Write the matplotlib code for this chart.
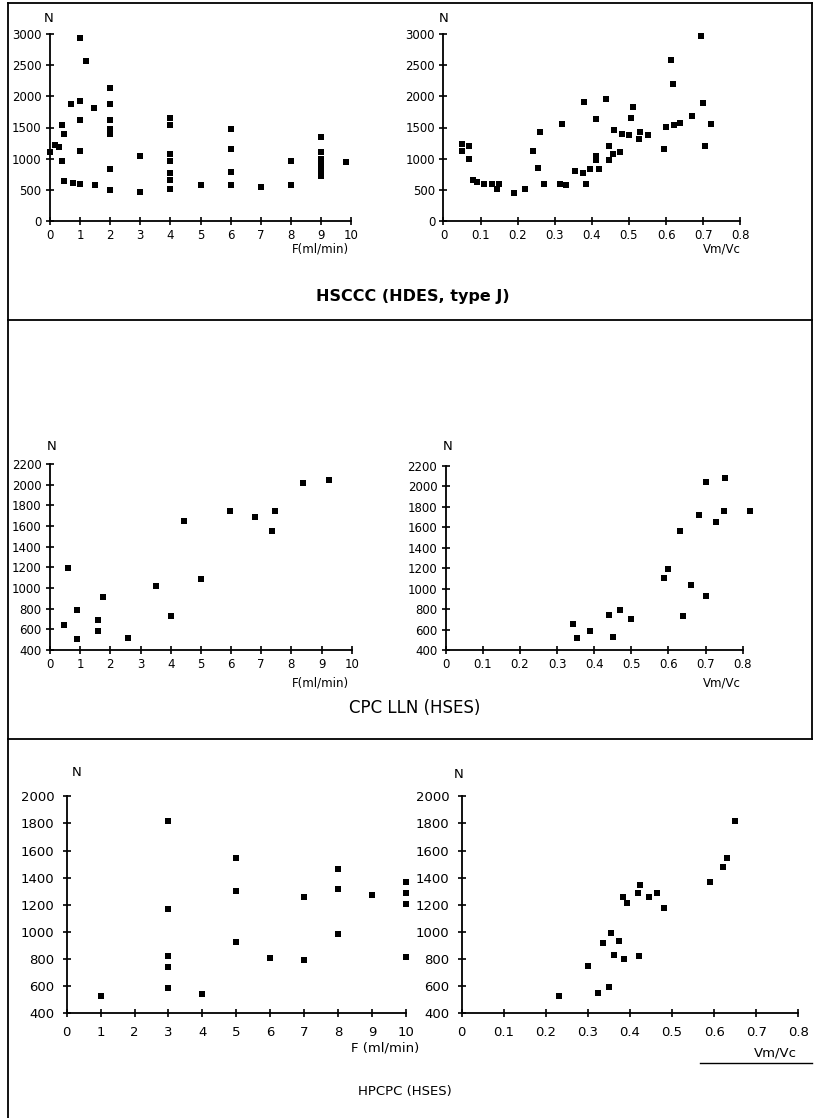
import matplotlib
matplotlib.use("Agg")
import matplotlib.pyplot as plt
from matplotlib.lines import Line2D

plt.rcParams['font.family'] = ['DejaVu Sans']

W, H = 816, 1118

# ---------------- data ----------------
# HSCCC (HDES, type J) : N vs F
hsccc_F = [0, 0.15, 0.3, 0.4, 0.45, 0.4, 0.45, 0.7, 0.75,
           1, 1, 1, 1, 1, 1.2, 1.45, 1.5,
           2, 2, 2, 2, 2, 2, 2, 3, 3,
           4, 4, 4, 4, 4, 4, 4, 5,
           6, 6, 6, 6, 7, 8, 8,
           9, 9, 9, 9, 9, 9, 9, 9.85]
hsccc_F_N = [1100, 1220, 1190, 1540, 1390, 960, 640, 1870, 610,
             2930, 1920, 1620, 1120, 590, 2560, 1820, 570,
             2140, 1870, 1620, 1480, 1400, 840, 490, 1040, 460,
             1650, 1540, 1070, 960, 770, 660, 520, 570,
             1470, 1150, 790, 570, 540, 970, 570,
             1350, 1100, 1000, 920, 850, 780, 720, 950]

# HSCCC : N vs Vm/Vc
hsccc_V = [0.05, 0.05, 0.07, 0.07, 0.08, 0.09, 0.11, 0.13, 0.145, 0.15,
           0.19, 0.22, 0.24, 0.255, 0.26, 0.27, 0.315, 0.32, 0.33, 0.355,
           0.375, 0.38, 0.385, 0.395, 0.41, 0.41, 0.41, 0.42, 0.438, 0.445,
           0.445, 0.458, 0.46, 0.475, 0.48, 0.5, 0.505, 0.512, 0.528, 0.53,
           0.55, 0.595, 0.6, 0.62, 0.637, 0.613, 0.618, 0.67, 0.693, 0.7,
           0.705, 0.72]
hsccc_V_N = [1240, 1130, 1210, 990, 650, 620, 600, 590, 510, 590,
             455, 510, 1130, 845, 1420, 590, 600, 1550, 575, 800,
             770, 1910, 600, 830, 1640, 980, 1050, 830, 1960, 1200,
             980, 1075, 1460, 1100, 1400, 1385, 1660, 1830, 1310, 1420,
             1385, 1160, 1510, 1535, 1580, 2590, 2190, 1690, 2960, 1890,
             1210, 1555]

# CPC LLN (HSES)
cpc_F = [0.45, 0.6, 0.9, 0.9, 1.6, 1.6, 1.75, 2.6, 3.5, 4.0,
         4.45, 5.0, 5.95, 6.8, 7.35, 7.45, 8.4, 9.25]
cpc_F_N = [640, 1195, 790, 505, 690, 580, 910, 520, 1015, 730,
           1645, 1090, 1750, 1690, 1550, 1750, 2015, 2050]
cpc_V = [0.343, 0.353, 0.39, 0.44, 0.45, 0.47, 0.5, 0.587, 0.6, 0.632,
         0.64, 0.66, 0.682, 0.7, 0.7, 0.728, 0.749, 0.753, 0.82]
cpc_V_N = [650, 515, 590, 740, 525, 790, 700, 1100, 1195, 1565,
           730, 1030, 1720, 2040, 930, 1655, 1760, 2075, 1760]

# HPCPC (HSES)
hpcpc_F = [1, 3, 3, 3, 3, 3, 4, 5, 5, 5, 6, 7, 7, 8, 8, 8, 9, 10, 10, 10, 10]
hpcpc_F_N = [525, 1815, 1170, 825, 745, 590, 545, 1545, 1305, 925, 805,
             1255, 790, 1465, 1315, 985, 1270, 1365, 1285, 1205, 815]
hpcpc_V = [0.232, 0.3, 0.325, 0.336, 0.35, 0.354, 0.362, 0.373, 0.384, 0.386,
           0.392, 0.42, 0.421, 0.424, 0.445, 0.463, 0.481, 0.59, 0.622, 0.63, 0.649]
hpcpc_V_N = [530, 750, 550, 920, 595, 990, 830, 935, 1260, 800,
             1210, 1290, 825, 1345, 1255, 1290, 1180, 1365, 1480, 1545, 1815]

F_ticks = list(range(0, 11))
V_ticks = [0, 0.1, 0.2, 0.3, 0.4, 0.5, 0.6, 0.7, 0.8]
V_labels = ['0', '0.1', '0.2', '0.3', '0.4', '0.5', '0.6', '0.7', '0.8']
top_yticks = [0, 500, 1000, 1500, 2000, 2500, 3000]
mid_yticks = list(range(400, 2201, 200))
bot_yticks = list(range(400, 2001, 200))

# ---------------- figure ----------------
fig = plt.figure(figsize=(W / 100, H / 100), dpi=100)


def fx(x):
    return x / W


def fy(y):
    return 1 - y / H


def make_ax(left, right, bottom, top):
    ax = fig.add_axes([fx(left), fy(bottom), (right - left) / W, (bottom - top) / H])
    ax.set_facecolor('none')
    for s in ['top', 'right']:
        ax.spines[s].set_visible(False)
    for s in ['left', 'bottom']:
        ax.spines[s].set_linewidth(1.3)
        ax.spines[s].set_color('black')
    ax.tick_params(direction='inout', length=6, width=1.2, colors='black')
    return ax


def scatter(ax, x, y):
    ax.plot(x, y, 's', color='black', ms=3.8, mew=0, clip_on=False)


# Row 1
ax1 = make_ax(50, 351, 221, 34)
scatter(ax1, hsccc_F, hsccc_F_N)
ax1.set_xlim(0, 10); ax1.set_ylim(0, 3000)
ax1.set_xticks(F_ticks); ax1.set_yticks(top_yticks)
ax1.tick_params(labelsize=8.5, pad=3)

ax2 = make_ax(443.5, 740.3, 221, 34)
scatter(ax2, hsccc_V, hsccc_V_N)
ax2.set_xlim(0, 0.8); ax2.set_ylim(0, 3000)
ax2.set_xticks(V_ticks); ax2.set_xticklabels(V_labels); ax2.set_yticks(top_yticks)
ax2.tick_params(labelsize=8.5, pad=3)

# Row 2
ax3 = make_ax(50, 351.7, 650, 464)
scatter(ax3, cpc_F, cpc_F_N)
ax3.set_xlim(0, 10); ax3.set_ylim(400, 2200)
ax3.set_xticks(F_ticks); ax3.set_yticks(mid_yticks)
ax3.tick_params(labelsize=8.5, pad=3)

ax4 = make_ax(445.6, 742.7, 650, 465.7)
scatter(ax4, cpc_V, cpc_V_N)
ax4.set_xlim(0, 0.8); ax4.set_ylim(400, 2200)
ax4.set_xticks(V_ticks); ax4.set_xticklabels(V_labels); ax4.set_yticks(mid_yticks)
ax4.tick_params(labelsize=8.5, pad=3)

# Row 3
ax5 = make_ax(66.7, 406, 1013.3, 796.3)
scatter(ax5, hpcpc_F, hpcpc_F_N)
ax5.set_xlim(0, 10); ax5.set_ylim(400, 2000)
ax5.set_xticks(F_ticks); ax5.set_yticks(bot_yticks)
ax5.tick_params(labelsize=9.5, pad=6)

ax6 = make_ax(461.7, 798.3, 1013.3, 796.3)
scatter(ax6, hpcpc_V, hpcpc_V_N)
ax6.set_xlim(0, 0.8); ax6.set_ylim(400, 2000)
ax6.set_xticks(V_ticks); ax6.set_xticklabels(V_labels); ax6.set_yticks(bot_yticks)
ax6.tick_params(labelsize=9.5, pad=6)

# axis texts
def t(x, y, s, **kw):
    fig.text(fx(x), fy(y), s, ha='center', va='center', **kw)

for (x, y) in [(49, 18), (444, 18), (52, 447), (448, 447), (77, 773), (459, 775)]:
    t(x, y, 'N', fontsize=9.5)

t(320, 249, 'F(ml/min)', fontsize=8.5)
t(722, 249, 'Vm/Vc', fontsize=8.5)
t(320, 683, 'F(ml/min)', fontsize=8.5)
t(722, 683, 'Vm/Vc', fontsize=8.5)
t(385, 1048, 'F (ml/min)', fontsize=9.5)
t(775, 1053, 'Vm/Vc', fontsize=9.5)

t(413, 296, 'HSCCC (HDES, type J)', fontsize=11.5, fontweight='bold')
t(415, 708, 'CPC LLN (HSES)', fontsize=12)
t(405, 1092, 'HPCPC (HSES)', fontsize=9.5)

# frame lines
def line(x0, y0, x1, y1, lw=1.3):
    fig.add_artist(Line2D([fx(x0), fx(x1)], [fy(y0), fy(y1)], color='black', lw=lw))

line(8, 3, 8, 1118)
line(8, 3, 812, 3)
line(812, 3, 812, 739)
line(8, 320, 812, 320)
line(8, 739, 812, 739)
line(700, 1063, 812, 1063, lw=1.0)

fig.savefig('out.png', dpi=100)
